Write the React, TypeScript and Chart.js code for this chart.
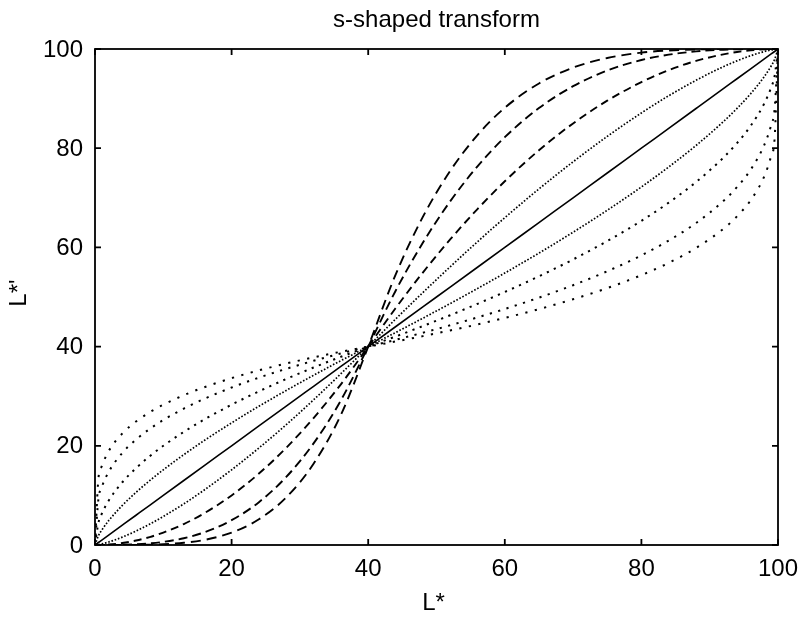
import React, { useEffect, useRef } from "react";
import { Chart, registerables } from "chart.js";

Chart.register(...registerables);

const TITLE = "s-shaped transform";
const X_TITLE = "L*";
const Y_TITLE = "L*'";
const TICKS = [0, 20, 40, 60, 80, 100];
const TICK_LABELS = ["0", "20", "40", "60", "80", "100"];

// Input lightness L* (shared sample positions)
const L_IN = [0, 0.5, 1, 2, 4, 6, 8, 10, 13, 16, 20, 24, 28, 32, 36, 40, 44, 48, 52, 56, 60, 65, 70, 75, 80, 84, 88, 92, 94, 96, 98, 99, 99.5, 100];

// Output curves (outermost dashed ... outermost dotted)
const DASH_1 = [0, 0, 0, 0, 0, 0.02, 0.06, 0.16, 0.45, 1.02, 2.5, 5.18, 9.6, 16.38, 26.24, 40, 54.47, 66.15, 75.42, 82.65, 88.15, 93.05, 96.25, 98.19, 99.26, 99.7, 99.9, 99.98, 100, 100, 100, 100, 100, 100];
const DASH_2 = [0, 0, 0, 0.01, 0.04, 0.14, 0.32, 0.63, 1.37, 2.56, 5, 8.64, 13.72, 20.48, 29.16, 40, 51.22, 60.94, 69.28, 76.34, 82.22, 88.09, 92.5, 95.66, 97.78, 98.86, 99.52, 99.86, 99.94, 99.98, 100, 100, 100, 100];
const DASH_3 = [0, 0.01, 0.03, 0.1, 0.4, 0.9, 1.6, 2.5, 4.23, 6.4, 10, 14.4, 19.6, 25.6, 32.4, 40, 47.73, 54.93, 61.6, 67.73, 73.33, 79.58, 85, 89.58, 93.33, 95.73, 97.6, 98.93, 99.4, 99.73, 99.93, 99.98, 100, 100];
const FINE_1 = [0, 0.09, 0.23, 0.6, 1.59, 2.81, 4.2, 5.75, 8.29, 11.1, 15.16, 19.56, 24.26, 29.27, 34.53, 40, 45.53, 50.89, 56.09, 61.14, 65.99, 71.79, 77.26, 82.38, 87.11, 90.57, 93.69, 96.43, 97.61, 98.65, 99.49, 99.81, 99.93, 100];
const IDENTITY = [0, 0.5, 1, 2, 4, 6, 8, 10, 13, 16, 20, 24, 28, 32, 36, 40, 44, 48, 52, 56, 60, 65, 70, 75, 80, 84, 88, 92, 94, 96, 98, 99, 99.5, 100];
const FINE_2 = [0, 1.86, 3.02, 4.91, 7.98, 10.6, 12.97, 15.16, 18.21, 21.07, 24.62, 27.97, 31.16, 34.22, 37.16, 40, 42.83, 45.72, 48.68, 51.71, 54.83, 58.86, 63.06, 67.49, 72.19, 76.22, 80.55, 85.36, 88.03, 90.99, 94.45, 96.58, 97.9, 100];
const DOT_1 = [0, 4.47, 6.32, 8.94, 12.65, 15.49, 17.89, 20, 22.8, 25.3, 28.28, 30.98, 33.47, 35.78, 37.95, 40, 42.03, 44.14, 46.33, 48.62, 51.01, 54.17, 57.57, 61.27, 65.36, 69.02, 73.17, 78.09, 81.03, 84.51, 89.05, 92.25, 94.52, 100];
const DOT_2 = [0, 9.28, 11.7, 14.74, 18.57, 21.25, 23.39, 25.2, 27.5, 29.47, 31.75, 33.74, 35.52, 37.13, 38.62, 40, 41.36, 42.8, 44.3, 45.89, 47.58, 49.87, 52.38, 55.19, 58.4, 61.38, 64.91, 69.35, 72.15, 75.67, 80.69, 84.67, 87.84, 100];
const DOT_3 = [0, 13.38, 15.91, 18.92, 22.49, 24.89, 26.75, 28.28, 30.2, 31.81, 33.64, 35.21, 36.59, 37.83, 38.96, 40, 41.03, 42.11, 43.26, 44.47, 45.78, 47.56, 49.55, 51.79, 54.41, 56.88, 59.88, 63.74, 66.26, 69.51, 74.36, 78.44, 81.87, 100];

const SERIES = [
  { y: DASH_1, dash: [10, 6], w: 1.9 },
  { y: DASH_2, dash: [9, 5], w: 1.9 },
  { y: DASH_3, dash: [8, 5], w: 1.9 },
  { y: FINE_1, dash: [1.6, 1.8], w: 1.7 },
  { y: IDENTITY, dash: [], w: 1.6 },
  { y: FINE_2, dash: [1.6, 1.8], w: 1.7 },
  { y: DOT_1, dash: [2.2, 5.5], w: 2 },
  { y: DOT_2, dash: [2.2, 6.5], w: 2 },
  { y: DOT_3, dash: [2.2, 7.5], w: 2 },
];

const FONT = "'Liberation Sans', Arial, Helvetica, sans-serif";

const framePlugin = {
  id: "matlabFrame",
  afterDraw(chart: any) {
    const { ctx, chartArea: a, scales } = chart;
    const xs = scales.x;
    const ys = scales.y;
    ctx.save();
    ctx.strokeStyle = "#000";
    ctx.lineWidth = 1.8;
    ctx.setLineDash([]);
    ctx.strokeRect(a.left, a.top, a.right - a.left, a.bottom - a.top);
    const tl = 6;
    ctx.beginPath();
    TICKS.forEach((v) => {
      const px = xs.getPixelForValue(v);
      ctx.moveTo(px, a.bottom);
      ctx.lineTo(px, a.bottom - tl);
      ctx.moveTo(px, a.top);
      ctx.lineTo(px, a.top + tl);
      const py = ys.getPixelForValue(v);
      ctx.moveTo(a.left, py);
      ctx.lineTo(a.left + tl, py);
      ctx.moveTo(a.right, py);
      ctx.lineTo(a.right - tl, py);
    });
    ctx.stroke();

    ctx.fillStyle = "#000";
    ctx.font = `24px ${FONT}`;
    ctx.textBaseline = "middle";
    ctx.textAlign = "right";
    TICKS.forEach((v, i) => {
      ctx.fillText(TICK_LABELS[i], a.left - 12, ys.getPixelForValue(v) + 1);
    });
    ctx.textAlign = "center";
    ctx.textBaseline = "top";
    TICKS.forEach((v, i) => {
      ctx.fillText(TICK_LABELS[i], xs.getPixelForValue(v), a.bottom + 12);
    });

    // axis titles
    ctx.textBaseline = "middle";
    ctx.fillText(X_TITLE, (a.left + a.right) / 2 - 3, 603);
    ctx.save();
    ctx.translate(19, (a.top + a.bottom) / 2 - 4);
    ctx.rotate(-Math.PI / 2);
    ctx.fillText(Y_TITLE, 0, 0);
    ctx.restore();

    // title
    ctx.font = `24px ${FONT}`;
    ctx.fillText(TITLE, (a.left + a.right) / 2, 20);
    ctx.restore();
  },
};

export default function App() {
  const ref = useRef<HTMLCanvasElement>(null);
  useEffect(() => {
    const canvas = ref.current;
    if (!canvas) return;
    const chart = new Chart(canvas, {
      type: "scatter",
      data: {
        datasets: SERIES.map((s, i) => ({
          label: `curve ${i + 1}`,
          data: L_IN.map((x, j) => ({ x, y: s.y[j] })),
          showLine: true,
          borderColor: "#000",
          backgroundColor: "#000",
          borderWidth: s.w,
          borderDash: s.dash,
          pointRadius: 0,
          cubicInterpolationMode: "monotone" as const,
          fill: false,
        })),
      },
      options: {
        responsive: false,
        animation: false,
        devicePixelRatio: 1,
        layout: { padding: { left: 95, right: 24, top: 49, bottom: 74 } },
        plugins: {
          legend: { display: false },
          title: { display: false },
          tooltip: { enabled: false },
        },
        scales: {
          x: {
            type: "linear",
            min: 0,
            max: 100,
            ticks: { display: false },
            grid: { display: false },
            border: { display: false },
            afterFit: (s: any) => {
              s.height = 0;
            },
          },
          y: {
            type: "linear",
            min: 0,
            max: 100,
            ticks: { display: false },
            grid: { display: false },
            border: { display: false },
            afterFit: (s: any) => {
              s.width = 0;
            },
          },
        },
      },
      plugins: [framePlugin],
    });
    return () => chart.destroy();
  }, []);
  return (
    <div style={{ position: "absolute", left: 0, top: 0, width: 802, height: 619, background: "#fff" }}>
      <canvas ref={ref} width={802} height={619} style={{ display: "block" }} />
    </div>
  );
}
